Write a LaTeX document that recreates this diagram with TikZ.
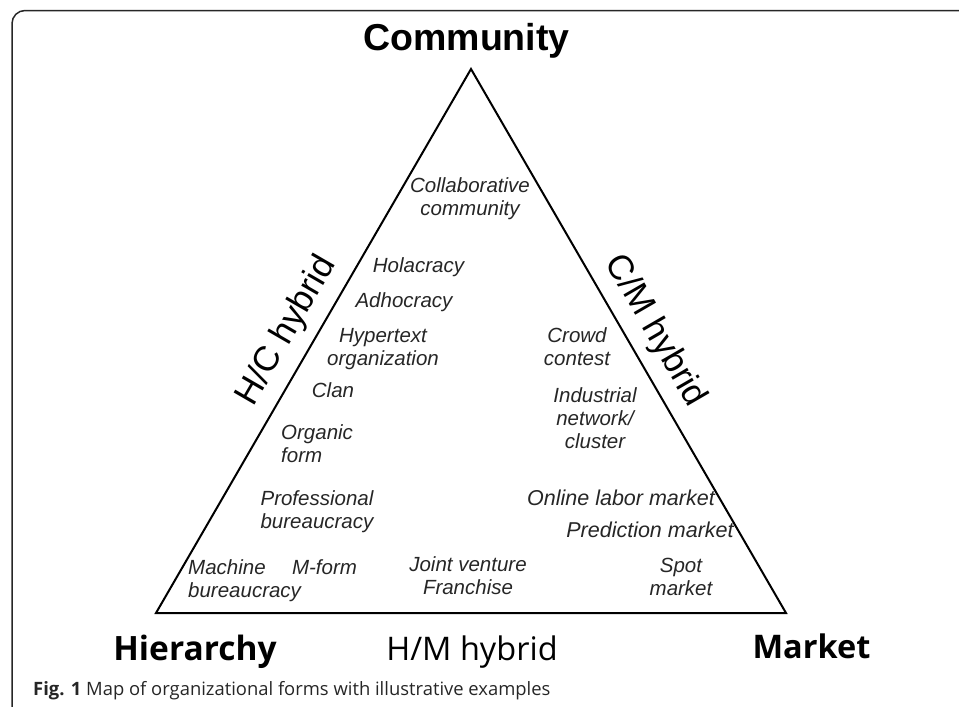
\documentclass[tikz,border=0pt]{standalone}
\usepackage{fontspec}
\setmainfont{Liberation Sans}
\newfontfamily\capfont{Open Sans}
\begin{document}
\begin{tikzpicture}[x=1pt,y=-1pt,
  lab/.style={font=\fontsize{20.5}{23}\selectfont\itshape, text=black!85, inner sep=0pt, align=center, anchor=base},
  labl/.style={lab, align=left},
  corner/.style={font=\fontsize{37.5}{40}\selectfont\bfseries, inner sep=0pt, anchor=base},
  cornero/.style={font=\capfont\fontsize{32.5}{36}\selectfont\bfseries, inner sep=0pt, anchor=base},
  side/.style={font=\fontsize{35}{38}\selectfont, inner sep=0pt, anchor=center},
  sideo/.style={font=\capfont\fontsize{32.5}{36}\selectfont, inner sep=0pt, anchor=base},
  tri/.style={line width=2pt, line join=miter},
  frame/.style={line width=1.5pt, black!85, rounded corners=13pt}]
\useasboundingbox (0,0) rectangle (959,707);
\clip (0,0) rectangle (959,707);
\draw[frame] (12,760) -- (12,10.5) -- (1000,10.5);
\coordinate (C) at (471,69);
\coordinate (H) at (156,613);
\coordinate (M) at (786,613);
\draw[tri] (C) -- (H) -- (M) -- cycle;
% corner labels
\node[corner] (community) at (466.5,50) {Community};
\node[cornero, font=\capfont\fontsize{33.5}{36}\selectfont\bfseries] (hierarchy) at (195,660) {Hierarchy};
\node[sideo] (hm) at (472,660) {H/M hybrid};
\node[cornero] (market) at (811.5,658) {Market};
\node[side, rotate=59.9] (hc) at (287,331) {H/C hybrid};
\node[side, rotate=-59.9] (cm) at (655,331) {C/M hybrid};
% examples
\node[lab] (collab) at (470,215) {Collaborative\\community};
\node[lab] (hola) at (418.5,272) {Holacracy};
\node[lab] (adho) at (404,307) {Adhocracy};
\node[lab] (hyper) at (383,365) {Hypertext\\organization};
\node[lab] (clan) at (333,397) {Clan};
\node[labl, anchor=base west] (organic) at (281,462) {Organic\\form};
\node[lab] (prof) at (317,528) {Professional\\bureaucracy};
\node[labl, anchor=base west] (machine) at (188,597) {Machine\\bureaucracy};
\node[lab] (mform) at (324.5,574) {M-form};
\node[lab] (joint) at (468,594) {Joint venture\\Franchise};
\node[lab] (crowd) at (577,365) {Crowd\\contest};
\node[lab] (indus) at (595,448) {Industrial\\network/\\cluster};
\node[lab, font=\fontsize{21.5}{23}\selectfont\itshape] (online) at (621,505) {Online labor market};
\node[lab, font=\fontsize{21.5}{23}\selectfont\itshape] (pred) at (650,537) {Prediction market};
\node[lab] (spot) at (681,595) {Spot\\market};
% caption
\node[font=\capfont\fontsize{18.4}{21}\selectfont, text=black!85, inner sep=0pt, anchor=base west] (caption) at (33,695) {\textbf{Fig. 1} Map of organizational forms with illustrative examples};
\end{tikzpicture}
\end{document}
